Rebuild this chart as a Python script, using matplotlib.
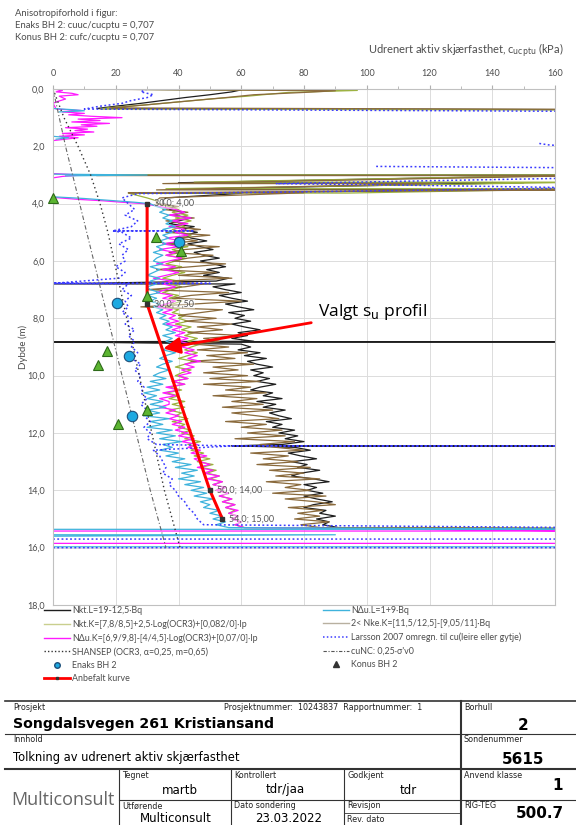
import matplotlib
matplotlib.use("Agg")
import matplotlib.pyplot as plt
import matplotlib.ticker as ticker
import numpy as np
from matplotlib.lines import Line2D

plt.rcParams['font.family'] = ['Lato', 'DejaVu Sans']

nan = np.nan
W, H = 576, 825

# ---- data (depth in m, cu in kPa) ----
depth_main = np.round(np.arange(4.0, 15.31, 0.1), 2)
depth_larsson = np.round(np.arange(4.0, 15.21, 0.2), 2)

nkt_l = [35, 39, 37, 42, 38, 44, 40, 37, 45, 41,
         46, 42, 44, 49, 43, 47, 51, 45, 48, 53,
         47, 51, 55, 49, 53, 48, 56, 52, 58, 51,
         55, 60, 53, 57, 62, 55, 59, 64, 56, 61,
         58, 63, 57, 61, 66, 59, 62, 57, 64, 60,
         63, 59, 66, 61, 68, 62, 65, 70, 63, 67,
         64, 69, 65, 71, 66, 63, 70, 67, 73, 65,
         71, 67, 74, 69, 72, 76, 68, 73, 70, 77,
         72, 78, 74, 80, 73, 77, 82, 75, 79, 84,
         76, 81, 78, 85, 79, 76, 83, 88, 80, 84,
         81, 86, 80, 84, 89, 83, 80, 87, 85, 90,
         84, 88, 86, 91]
nkt_k = [33, 37, 40, 38, 43, 39, 44, 40, 42, 38,
         41, 44, 39, 42, 37, 43, 38, 41, 36, 42,
         39, 36, 41, 37, 42, 38, 35, 40, 37, 41,
         38, 35, 40, 37, 41, 38, 36, 40, 38, 42,
         40, 43, 39, 44, 41, 45, 42, 46, 43, 47,
         44, 42, 46, 43, 40, 45, 42, 39, 44, 41,
         39, 43, 38, 42, 37, 41, 36, 40, 37, 42,
         38, 42, 37, 41, 39, 43, 38, 42, 40, 44,
         41, 45, 42, 47, 43, 46, 44, 48, 45, 50,
         46, 51, 47, 52, 49, 53, 50, 54, 51, 55,
         52, 56, 53, 57, 54, 58, 55, 58, 56, 59,
         57, 60, 58, 61]
ndu_k = [29, 34, 39, 42, 37, 44, 38, 43, 37, 42,
         39, 43, 36, 41, 35, 40, 34, 39, 36, 41,
         37, 33, 39, 35, 40, 36, 32, 38, 35, 39,
         36, 33, 38, 35, 39, 36, 33, 38, 35, 39,
         37, 40, 36, 41, 38, 42, 39, 43, 40, 44,
         41, 45, 42, 46, 43, 47, 42, 45, 41, 44,
         40, 43, 38, 42, 36, 40, 35, 39, 34, 37,
         37, 34, 39, 36, 40, 37, 41, 38, 42, 39,
         43, 40, 45, 41, 46, 43, 47, 44, 49, 45,
         47, 50, 46, 51, 48, 53, 49, 54, 51, 55,
         52, 56, 53, 57, 54, 58, 55, 59, 56, 59,
         57, 60, 58, 61]
ndu_l = [31, 33, 36, 34, 37, 35, 38, 36, 39, 35,
         38, 35, 37, 34, 36, 33, 35, 32, 35, 33,
         32, 35, 31, 34, 32, 30, 34, 31, 33, 30,
         31, 34, 30, 33, 31, 34, 32, 35, 33, 36,
         34, 37, 35, 38, 36, 39, 35, 38, 36, 39,
         37, 35, 39, 36, 34, 38, 35, 33, 37, 34,
         32, 36, 31, 35, 30, 34, 29, 33, 30, 35,
         31, 36, 30, 34, 29, 37, 31, 35, 30, 38,
         33, 39, 34, 41, 35, 38, 34, 40, 36, 42,
         38, 44, 39, 46, 41, 45, 40, 47, 42, 48,
         44, 49, 45, 51, 47, 50, 48, 53, 50, 54,
         51, 55, 52, 56]
nke_k = [33, 40, 35, 43, 37, 45, 36, 42, 39, 47,
         36, 50, 40, 46, 35, 53, 42, 37, 51, 43,
         38, 55, 44, 33, 52, 40, 57, 36, 48, 42,
         30, 56, 44, 38, 60, 45, 28, 54, 47, 40,
         52, 42, 57, 46, 54, 43, 60, 48, 53, 45,
         56, 46, 62, 49, 58, 44, 64, 51, 59, 48,
         62, 50, 66, 48, 63, 55, 68, 51, 65, 57,
         67, 54, 70, 57, 65, 72, 55, 68, 60, 73,
         62, 74, 58, 77, 66, 71, 80, 63, 75, 67,
         78, 65, 82, 69, 80, 71, 85, 68, 79, 74,
         82, 70, 87, 74, 84, 90, 75, 86, 78, 85,
         77, 88, 79, 85]
larsson = [24, 26, 23, 27, 25, 22, 25, 21, 24, 22,
           23, 20, 23, 21, 24, 22, 25, 23, 24, 22,
           25, 23, 26, 24, 26, 25, 27, 25, 28, 26,
           28, 27, 29, 28, 30, 28, 30, 29, 31, 29,
           31, 30, 33, 32, 34, 35, 36, 35, 38, 37,
           39, 40, 42, 43, 45, 46, 48]

# upper part of the sounding (pre-drilled zone and stiff layers)
nkt_l_top_d = [0.0, 0.03, 0.1, 0.2, 0.3, 0.4, 0.5, 0.6, 0.68, 0.72, nan,
               3.0, 3.0, 3.27, 3.27, 3.5, 3.5, 3.64, 3.64, 3.8, 3.9]
nkt_l_top_v = [0, 60, 57, 50, 42, 35, 28, 20, 14, 170, nan,
               12, 170, 40, 150, 38, 170, 28, 60, 36, 35]
nkt_k_top_d = [0.0, 0.05, 0.12, 0.25, 0.35, 0.45, 0.55, 0.65, 0.7, 0.73, nan,
               3.0, 3.0, 3.25, 3.25, 3.48, 3.48, 3.63, 3.63, 3.8, 3.9]
nkt_k_top_v = [0, 97, 75, 62, 50, 40, 30, 18, 15, 170, nan,
               15, 170, 45, 170, 36, 170, 94, 24, 30, 33]
nke_k_top_d = [0.0, 0.06, 0.12, 0.2, 0.3, 0.4, 0.5, 0.6, 0.66, 0.71, nan,
               3.02, 3.02, 3.3, 3.3, 3.52, 3.52, 3.62, 3.62, 3.8, 3.9]
nke_k_top_v = [0, 90, 80, 64, 55, 45, 35, 25, 18, 170, nan,
               14, 170, 35, 120, 33, 170, 24, 80, 34, 33]
ndu_k_top_d = [0.0, 0.05, 0.1, 0.15, 0.2, 0.25, 0.35, 0.45, 0.5, 0.7, 0.75, 0.8,
               0.85, 0.9, 0.95, 1.0, 1.05, 1.1, 1.15, 1.2, 1.25, 1.3, 1.35, 1.4,
               1.45, 1.5, 1.55, 1.6, 1.65, 1.7, 1.75, 1.8, nan,
               2.95, 3.0, 3.05, 3.1, nan, 3.78, 3.85, 3.9, 3.95]
ndu_k_top_v = [0, 3, 1, 6, 8, 2, 4, 1, 0, 1, 9, 3,
               10, 5, 12, 22, 8, 15, 6, 18, 9, 14, 4, 11,
               7, 13, 3, 10, 2, 8, 4, 0, nan,
               0, 9, 3, 0, nan, 0, 8, 16, 22]
ndu_l_top_d = [0.68, 0.72, 0.76, 0.8, nan, 1.65, 1.7, 1.75, nan,
               2.97, 3.0, 3.03, nan, 3.76, 3.82, 3.9, 3.95]
ndu_l_top_v = [0, 6, 10, 2, nan, 0, 5, 1, nan,
               0, 30, 4, nan, 0, 10, 20, 26]
larsson_top_d = [0.0, 0.1, 0.2, 0.3, 0.4, 0.5, 0.6, 0.7, 0.78, 0.85, nan,
                 1.9, 1.95, 2.0, nan, 2.7, 2.75, 3.0, 3.1, 3.3, 3.35, 3.45,
                 3.6, 3.65, 3.8]
larsson_top_v = [30, 28, 32, 30, 25, 22, 15, 10, 170, 170, nan,
                 155, 158, 165, nan, 103, 170, 170, 170, 71, 110, 170,
                 70, 27, 22]

# bottom (stop of sounding)
nkt_l_bot_d = [15.33]
nkt_l_bot_v = [170]
nkt_k_bot_d = [15.32]
nkt_k_bot_v = [170]
nke_k_bot_d = [15.34]
nke_k_bot_v = [170]
ndu_k_bot_d = [15.42, 15.42, 15.85, 15.85]
ndu_k_bot_v = [170, 0, 0, 170]
ndu_l_bot_d = [15.36, 15.36, 15.55, 15.55, 15.6, 15.97, 15.97]
ndu_l_bot_v = [170, 0, 0, 90, 0, 0, 170]
larsson_bot_d = [15.3, nan, 15.7, 15.7, nan, 16.0, 16.0]
larsson_bot_v = [170, nan, 0, 170, nan, 0, 170]

# single-depth spikes (depth, from, to)
nkt_l_spikes = [(6.8, 0, 55), (8.82, 0, 170), (12.45, 57, 170)]
larsson_spikes = [(4.95, 19, 45), (6.78, 0, 50), (12.45, 57, 170)]

shansep_d = [0, 1, 2, 3, 4, 5, 6, 7, 8, 9, 10, 11, 12, 13, 14, 15, 16]
shansep_v = [0, 3.5, 8, 12, 15, 17.5, 19.5, 21.5, 23.5, 25.5, 27.5, 29.5, 31.5,
             33.5, 35.5, 38, 40.5]
cunc_d = [0, 2, 4, 6, 8, 10, 12, 14, 16]
cunc_v = [0, 4, 8.5, 13, 17.5, 22, 26.5, 31, 36]

enaks_d = [5.33, 7.45, 9.31, 11.41]
enaks_v = [40.3, 20.3, 24.3, 25.2]
konus_d = [3.79, 5.15, 5.65, 7.22, 9.14, 9.63, 11.2, 11.7]
konus_v = [0.0, 32.8, 40.9, 29.9, 17.1, 14.2, 29.9, 20.7]

anbefalt_d = [4.0, 7.5, 14.0, 15.0]
anbefalt_v = [30.0, 30.0, 50.0, 54.0]


def with_spikes(grid, vals, spikes):
    d, v = list(grid), list(vals)
    for ds, lo, hi in spikes:
        i = int(np.searchsorted(d, ds))
        d[i:i] = [ds, ds, ds]
        v[i:i] = [lo, hi, lo]
    return d, v


def build(top_d, top_v, main_d, main_v, bot_d, bot_v, spikes=()):
    md, mv = with_spikes(main_d, main_v, spikes)
    return (np.concatenate([top_d, md, bot_d]),
            np.concatenate([top_v, mv, bot_v]))


def px(x, y):
    return x / W, 1 - y / H


fig = plt.figure(figsize=(W / 100, H / 100), dpi=100)
ax = fig.add_axes([53 / W, 1 - 605 / H, 502 / W, 516 / H])

grey = '#4d4d4d'
series = [
    (build(nkt_l_top_d, nkt_l_top_v, depth_main, nkt_l, nkt_l_bot_d, nkt_l_bot_v, nkt_l_spikes),
     dict(color='#1e1e1e', lw=0.9)),
    (build(nkt_k_top_d, nkt_k_top_v, depth_main, nkt_k, nkt_k_bot_d, nkt_k_bot_v),
     dict(color='#9cb23c', lw=0.9)),
    (build(nke_k_top_d, nke_k_top_v, depth_main, nke_k, nke_k_bot_d, nke_k_bot_v),
     dict(color='#8a6a3c', lw=0.9)),
    (build(ndu_k_top_d, ndu_k_top_v, depth_main, ndu_k, ndu_k_bot_d, ndu_k_bot_v),
     dict(color='#ff1aff', lw=0.9)),
    (build(ndu_l_top_d, ndu_l_top_v, depth_main, ndu_l, ndu_l_bot_d, ndu_l_bot_v),
     dict(color='#3fb3dc', lw=0.9)),
    (build(larsson_top_d, larsson_top_v, depth_larsson, larsson, larsson_bot_d, larsson_bot_v,
           larsson_spikes),
     dict(color='#3b3bff', lw=1.1, ls=(0, (1.2, 1.6)))),
]
for (d, v), kw in series:
    ax.plot(v, d, **kw)

ax.plot(shansep_v, shansep_d, color='#333333', lw=1.0, ls=(0, (1, 2.2)))
ax.plot(cunc_v, cunc_d, color='#666666', lw=0.8, ls=(0, (4, 2, 1, 2)))

ax.plot(anbefalt_v, anbefalt_d, color='#ff0000', lw=2.2, marker='s', ms=2.5,
        mfc='#333333', mec='#333333', zorder=6)
for v, d in zip(anbefalt_v, anbefalt_d):
    lab = f"{v:.1f}; {d:.2f}".replace('.', ',')
    ax.annotate(lab, xy=(v, d), xytext=(5, 0), textcoords='offset points',
                ha='left', va='center', fontsize=6.5, color='#555555', zorder=7,
                bbox=dict(fc='white', ec='none', alpha=0.45, pad=0.4))

ax.plot(enaks_v, enaks_d, ls='none', marker='o', ms=7.5, mfc='#1ea9e1', mec='#1d4f7a',
        mew=0.8, zorder=8, clip_on=False)
ax.plot(konus_v, konus_d, ls='none', marker='^', ms=7.5, mfc='#5cb531', mec='#2d6a1a',
        mew=0.8, zorder=8, clip_on=False)

ax.annotate("Valgt s$_\\mathrm{u}$ profil", xy=(35.2, 9.05), xytext=(84.5, 7.78),
            fontsize=12.5, color='black', ha='left', va='center', zorder=9,
            family='Open Sans',
            arrowprops=dict(arrowstyle='-|>,head_length=0.8,head_width=0.4', color='#ff0000',
                            lw=2, shrinkA=3, shrinkB=0))

ax.set_xlim(0, 160)
ax.set_ylim(18, 0)
ax.xaxis.tick_top()
ax.set_xticks(np.arange(0, 161, 20))
ax.set_yticks(np.arange(0, 19, 2))
ax.xaxis.set_minor_locator(ticker.MultipleLocator(10))
ax.yaxis.set_major_formatter(ticker.FuncFormatter(lambda v, p: f"{v:.1f}".replace('.', ',')))
ax.tick_params(which='both', colors='#b0b0b0', labelcolor=grey, labelsize=6.5,
               direction='out')
ax.tick_params(which='major', length=3, pad=5)
ax.tick_params(which='minor', length=2)
ax.tick_params(axis='y', which='major', length=0, pad=6)
ax.grid(True, which='major', color='#dcdcdc', lw=0.7)
for s in ax.spines.values():
    s.set_color('#c0c0c0')
    s.set_linewidth(0.8)
ax.set_ylabel("Dybde (m)", fontsize=7, color=grey, labelpad=-1)

fig.text(*px(15, 14), "Anisotropiforhold i figur:", fontsize=6.8, color=grey, va='center')
fig.text(*px(15, 26), "Enaks BH 2: cuuc/cucptu = 0,707", fontsize=6.8, color=grey, va='center')
fig.text(*px(15, 38), "Konus BH 2: cufc/cucptu = 0,707", fontsize=6.8, color=grey, va='center')
fig.text(*px(368, 51), "Udrenert aktiv skjærfasthet, c$_{\\mathrm{ucptu}}$ (kPa)",
         fontsize=8, color=grey, va='center')

# legend, two columns
left_h = [Line2D([], [], color='#1e1e1e', lw=1),
          Line2D([], [], color='#c9cf8e', lw=1),
          Line2D([], [], color='#ff1aff', lw=1),
          Line2D([], [], color='#333333', lw=1, ls=(0, (1, 1.5))),
          Line2D([], [], ls='none', marker='o', ms=4, mfc='#1ea9e1', mec='#1d4f7a'),
          Line2D([], [], color='#ff0000', lw=2, marker='s', ms=2, mfc='#333', mec='#333')]
left_l = ["Nkt.L=19-12,5·Bq",
          "Nkt.K=[7,8/8,5]+2,5·Log(OCR3)+[0,082/0]·Ip",
          "NΔu.K=[6,9/9,8]-[4/4,5]·Log(OCR3)+[0,07/0]·Ip",
          "SHANSEP (OCR3, α=0,25, m=0,65)",
          "Enaks BH 2",
          "Anbefalt kurve"]
right_h = [Line2D([], [], color='#3fb3dc', lw=1),
           Line2D([], [], color='#b8b0a0', lw=1),
           Line2D([], [], color='#3b3bff', lw=1.1, ls=(0, (1, 1.5))),
           Line2D([], [], color='#555555', lw=0.8, ls=(0, (3, 1.5, 1, 1.5))),
           Line2D([], [], ls='none', marker='^', ms=4, mfc='#333', mec='#333')]
right_l = ["NΔu.L=1+9·Bq",
           "2< Nke.K=[11,5/12,5]-[9,05/11]·Bq",
           "Larsson 2007 omregn. til cu(leire eller gytje)",
           "cuNC: 0,25·σ'v0",
           "Konus BH 2"]
for h, l, x in ((left_h, left_l, 44), (right_h, right_l, 323)):
    leg = fig.legend(h, l, loc='upper left', bbox_to_anchor=px(x, 606), frameon=False,
                     fontsize=6.4, handlelength=2.9, handletextpad=0.25, labelspacing=0.5,
                     borderpad=0, borderaxespad=0)
    for t in leg.get_texts():
        t.set_color(grey)

# title block
bx = fig.add_axes([0, 0, 1, 1])
bx.set_xlim(0, W)
bx.set_ylim(H, 0)
bx.axis('off')
ink = '#333333'
for x0, x1, y, lw in [(5, 576, 701, 1.2), (5, 576, 734, 0.8), (5, 576, 769, 1.5),
                      (119, 576, 800, 0.8), (344, 461, 813, 0.6)]:
    bx.plot([x0, x1], [y, y], color=ink, lw=lw)
for x, y0, y1, lw in [(461, 701, 825, 1.5), (119, 769, 825, 0.8), (231, 769, 825, 0.8),
                      (344, 769, 825, 0.8)]:
    bx.plot([x, x], [y0, y1], color=ink, lw=lw)

lab = dict(fontsize=5.8, color='#222222', va='center', family='DejaVu Sans')
bx.text(13, 707, "Prosjekt", **lab)
bx.text(224, 707, "Prosjektnummer:  10243837  Rapportnummer:  1", **lab)
bx.text(464, 707, "Borhull", **lab)
bx.text(13, 740, "Innhold", **lab)
bx.text(464, 740, "Sondenummer", **lab)
bx.text(122, 775, "Tegnet", **lab)
bx.text(234, 775, "Kontrollert", **lab)
bx.text(347, 775, "Godkjent", **lab)
bx.text(464, 775, "Anvend klasse", **lab)
bx.text(122, 806, "Utførende", **lab)
bx.text(234, 806, "Dato sondering", **lab)
bx.text(347, 806, "Revisjon", **lab)
bx.text(347, 820, "Rev. dato", **lab)
bx.text(464, 806, "RIG-TEG", **lab)

bx.text(13, 724, "Songdalsvegen 261 Kristiansand", fontsize=10.2, fontweight='bold',
        color='black', va='center', family='DejaVu Sans')
bx.text(13, 758, "Tolkning av udrenert aktiv skjærfasthet", fontsize=8.3,
        color='black', va='center', family='DejaVu Sans')
big = dict(fontsize=11, fontweight='bold', color='black', va='center', ha='center',
           family='DejaVu Sans')
bx.text(523, 725, "2", **big)
bx.text(523, 759, "5615", **big)
bx.text(558, 785, "1", **big)
bx.text(540, 814, "500.7", **big)
val = dict(fontsize=8.5, color='black', va='center', ha='center', family='DejaVu Sans')
bx.text(180, 790, "martb", **val)
bx.text(285, 790, "tdr/jaa", **val)
bx.text(408, 790, "tdr", **val)
bx.text(176, 819, "Multiconsult", **val)
bx.text(289, 819, "23.03.2022", **val)
bx.text(11, 800, "Multiconsult", fontsize=13, color='#666666', va='center',
        family='Open Sans')

fig.savefig("out.png", dpi=100)
